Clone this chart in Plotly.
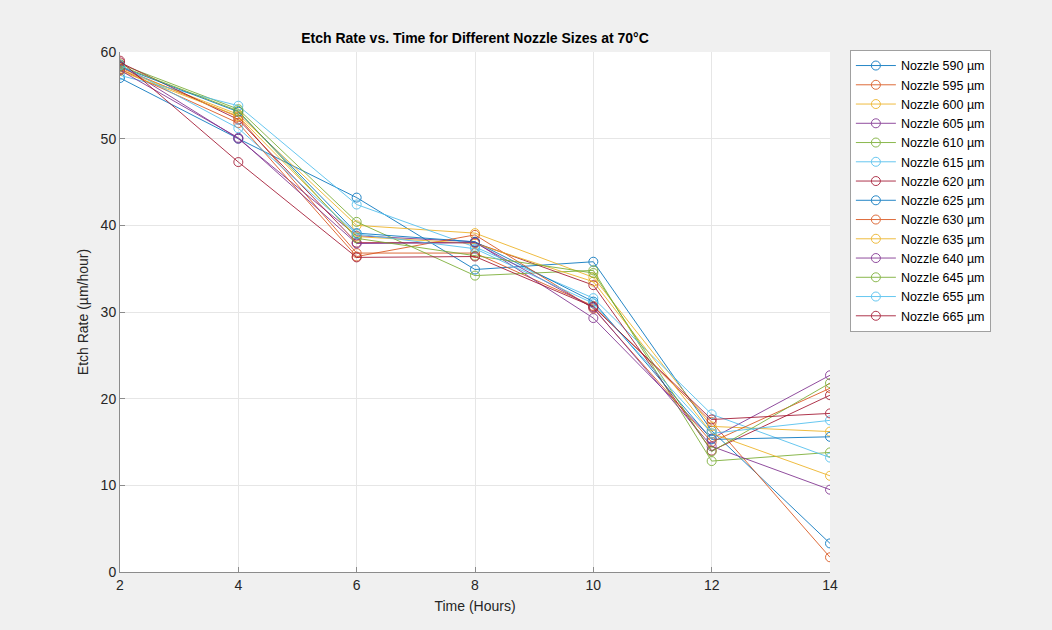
import plotly.graph_objects as go

# Sampling times (hours)
time_hours = [2, 4, 6, 8, 10, 12, 14]

# Nozzle sizes (µm)
nozzle_sizes = [590, 595, 600, 605, 610, 615, 620, 625, 630, 635, 640, 645, 655, 665]

# Etch rate (µm/hour) per nozzle size, one list per nozzle
rate_590 = [57.0, 50.0, 43.2, 34.9, 35.8, 16.3, 3.3]
rate_595 = [58.2, 52.5, 36.8, 36.8, 30.7, 17.3, 1.7]
rate_600 = [58.0, 52.8, 40.0, 39.1, 34.0, 16.8, 16.2]
rate_605 = [58.5, 50.0, 38.8, 38.1, 29.3, 15.4, 22.7]
rate_610 = [58.6, 53.4, 40.4, 34.2, 34.8, 12.8, 13.8]
rate_615 = [57.3, 53.8, 42.4, 37.5, 31.6, 18.2, 13.2]
rate_620 = [58.8, 52.2, 38.0, 38.0, 33.1, 14.0, 20.4]
rate_625 = [58.3, 53.1, 39.1, 38.1, 31.2, 15.3, 15.6]
rate_630 = [58.0, 51.8, 36.4, 38.9, 30.4, 15.0, 21.2]
rate_635 = [57.8, 52.6, 38.7, 37.9, 33.5, 16.0, 11.1]
rate_640 = [57.9, 50.1, 37.9, 38.0, 30.5, 14.5, 9.5]
rate_645 = [58.4, 53.2, 38.5, 36.5, 34.5, 13.9, 21.8]
rate_655 = [58.5, 51.2, 39.0, 37.3, 31.0, 16.0, 17.5]
rate_665 = [59.0, 47.3, 36.3, 36.4, 30.6, 17.6, 18.3]

rates = [rate_590, rate_595, rate_600, rate_605, rate_610, rate_615, rate_620,
         rate_625, rate_630, rate_635, rate_640, rate_645, rate_655, rate_665]

# MATLAB default colour order, cycled
color_order = ["#0072BD", "#D95319", "#EDB120", "#7E2F8E", "#77AC30", "#4DBEEE", "#A2142F"]

FONT = "Liberation Sans, Arial, Helvetica, sans-serif"

fig = go.Figure()
for i, (size, vals) in enumerate(zip(nozzle_sizes, rates)):
    c = color_order[i % len(color_order)]
    fig.add_trace(go.Scatter(
        x=time_hours, y=vals, mode="lines+markers",
        name=f"Nozzle {size} µm",
        line=dict(color=c, width=1),
        marker=dict(symbol="circle-open", size=9, color=c, line=dict(width=1, color=c)),
        opacity=0.85,
    ))

axis_common = dict(
    showgrid=True, gridcolor="#e6e6e6", gridwidth=1,
    showline=True, linecolor="#8c8c8c", linewidth=1,
    ticks="inside", ticklen=5, tickcolor="#8c8c8c",
    zeroline=False, mirror=False,
    tickfont=dict(family=FONT, size=14, color="#262626"),
)

fig.update_layout(
    width=1052, height=630,
    paper_bgcolor="#f0f0f0", plot_bgcolor="#ffffff",
    margin=dict(l=120, r=222, t=52, b=58),
    title=dict(
        text="<b>Etch Rate vs. Time for Different Nozzle Sizes at 70°C</b>",
        x=(120 + 830) / 2 / 1052, xanchor="center", y=1 - 38 / 630, yanchor="middle",
        font=dict(family=FONT, size=14, color="#000000"),
    ),
    xaxis=dict(range=[2, 14], tickvals=time_hours, **axis_common,
               title=dict(text="Time (Hours)", standoff=9,
                          font=dict(family=FONT, size=14, color="#262626"))),
    yaxis=dict(range=[0, 60], tickvals=[0, 10, 20, 30, 40, 50, 60], **axis_common,
               title=dict(text="Etch Rate (µm/hour)", standoff=8,
                          font=dict(family=FONT, size=14, color="#262626"))),
    legend=dict(
        x=1.028, xanchor="left", y=1.004, yanchor="top",
        bgcolor="#ffffff", bordercolor="#a0a0a0", borderwidth=1,
        font=dict(family=FONT, size=12.5, color="#000000"),
        tracegroupgap=0, itemwidth=40,
    ),
    showlegend=True,
)

fig.write_html("out.html")
